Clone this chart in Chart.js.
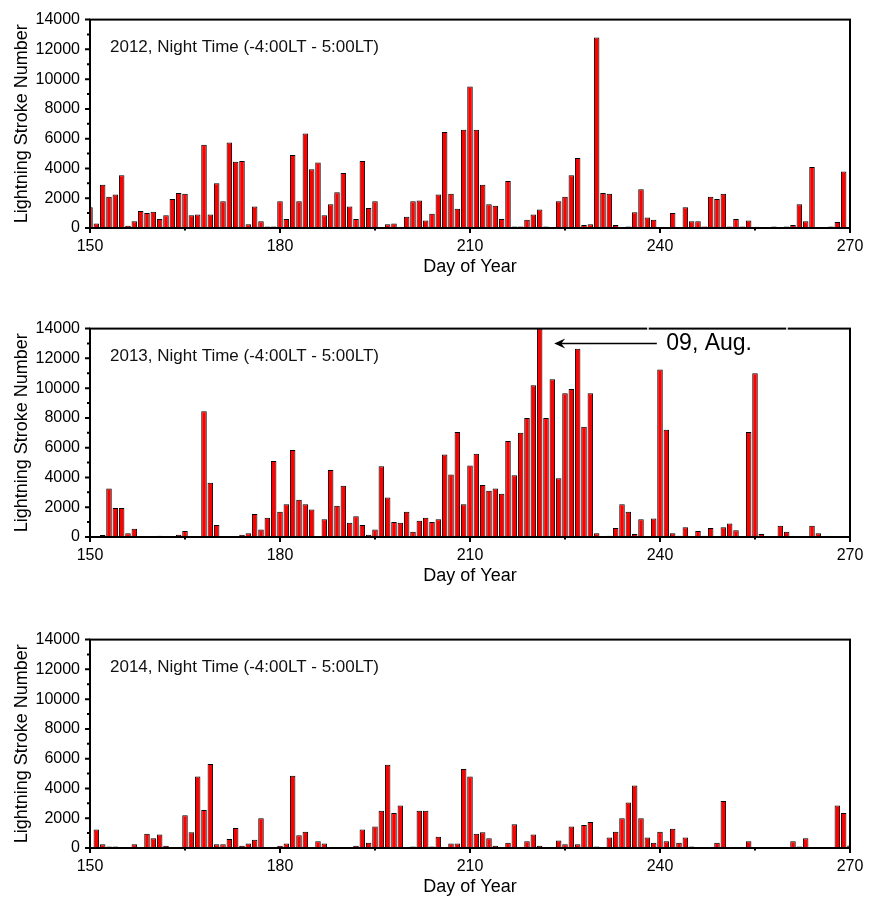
<!DOCTYPE html>
<html lang="en">
<head>
  <meta charset="UTF-8" />
  <title>Night Time Lightning Strokes 2012-2014</title>
  <style>
    html, body {
      margin: 0;
      background: #fff;
      overflow: hidden;
    }
    .panel {
      position: absolute;
      left: 0;
    }
  </style>
</head>
<body>
  <canvas id="c2012" class="panel" width="873" height="290" style="top:0px"></canvas>
  <canvas id="c2013" class="panel" width="873" height="290" style="top:309px"></canvas>
  <canvas id="c2014" class="panel" width="873" height="290" style="top:620px"></canvas>

  <script src="https://cdn.jsdelivr.net/npm/chart.js"></script>
  <script>
    // day-of-year axis
    const firstDay = 150;
    const dayTicks = [150, 180, 210, 240, 270];
    const minorDayTicks = [165, 195, 225, 255];
    const strokeTicks = [0, 2000, 4000, 6000, 8000, 10000, 12000, 14000];
    const minorStrokeTicks = [1000, 3000, 5000, 7000, 9000, 11000, 13000];

    // night-time stroke counts, one value per day starting at day 150
    const strokes2012 = [
      1400, 300, 2900, 2100, 2250, 3550, 150, 450, 1150, 1000,
      1100, 600, 850, 1950, 2350, 2300, 850, 900, 5600, 900,
      3000, 1800, 5750, 4450, 4500, 250, 1450, 450, 100, 100,
      1800, 600, 4900, 1800, 6350, 3950, 4400, 850, 1600, 2400,
      3700, 1450, 600, 4500, 1350, 1800, 0, 250, 300, 50,
      750, 1800, 1850, 500, 950, 2250, 6450, 2300, 1300, 6600,
      9500, 6600, 2900, 1600, 1500, 600, 3150, 100, 100, 550,
      900, 1250, 100, 30, 1800, 2100, 3550, 4700, 200, 250,
      12800, 2350, 2300, 200, 0, 100, 1050, 2600, 700, 550,
      0, 0, 1000, 0, 1400, 450, 450, 100, 2100, 1950,
      2300, 100, 600, 100, 500, 80, 0, 0, 100, 0,
      100, 200, 1600, 450, 4100, 0, 0, 100, 400, 3800,
      0
    ];

    const strokes2013 = [
      0, 0, 130, 3250, 1950, 1950, 250, 550, 0, 0,
      0, 80, 30, 0, 150, 400, 60, 0, 8450, 3650,
      800, 0, 0, 0, 150, 250, 1550, 500, 1300, 5100,
      1700, 2200, 5850, 2500, 2200, 1850, 0, 1200, 4500, 2100,
      3450, 950, 1400, 800, 150, 500, 4750, 2650, 1000, 950,
      1700, 350, 1100, 1300, 1000, 1200, 5550, 4200, 7050, 2200,
      4800, 5600, 3500, 3100, 3250, 2900, 6450, 4150, 7000, 8000,
      10200, 14000, 8000, 10600, 3950, 9650, 9950, 12650, 7400, 9650,
      250, 0, 80, 600, 2200, 1700, 200, 1200, 0, 1250,
      11250, 7200, 250, 80, 650, 60, 400, 80, 600, 0,
      650, 900, 450, 0, 7050, 11000, 200, 0, 30, 750,
      350, 0, 0, 0, 750, 250, 0, 0, 0, 0,
      0
    ];

    const strokes2014 = [
      0, 1250, 250, 100, 100, 0, 60, 250, 60, 950,
      650, 900, 150, 0, 0, 2200, 1050, 4800, 2550, 5650,
      250, 250, 600, 1350, 150, 300, 550, 2000, 0, 0,
      150, 300, 4850, 850, 1100, 30, 450, 300, 60, 0,
      0, 40, 150, 1250, 350, 1450, 2500, 5600, 2350, 2850,
      40, 100, 2500, 2500, 100, 750, 0, 300, 300, 5300,
      4800, 950, 1050, 650, 150, 40, 350, 1600, 0, 450,
      900, 150, 40, 0, 500, 250, 1450, 250, 1550, 1750,
      100, 0, 700, 1100, 2000, 3050, 4200, 2000, 700, 350,
      1100, 450, 1300, 350, 700, 100, 0, 0, 0, 350,
      3150, 0, 0, 40, 450, 0, 0, 0, 0, 0,
      0, 450, 100, 650, 0, 0, 0, 0, 2850, 2350,
      175
    ];

    Chart.defaults.font.family = '"Liberation Sans", Arial, Helvetica, sans-serif';
    Chart.defaults.color = '#000';

    // box, outward ticks and the in-panel notes
    const framePlugin = {
      id: 'frame',
      afterDatasetsDraw(chart, args, opts) {
        const { ctx, chartArea: a, scales: { x, y } } = chart;
        ctx.save();
        ctx.strokeStyle = '#000';
        ctx.lineWidth = 2;
        ctx.strokeRect(a.left, a.top, a.right - a.left, a.bottom - a.top);

        ctx.beginPath();
        dayTicks.forEach(d => {
          const px = x.getPixelForValue(d);
          ctx.moveTo(px, a.bottom);
          ctx.lineTo(px, a.bottom + 5);
        });
        minorDayTicks.forEach(d => {
          const px = x.getPixelForValue(d);
          ctx.moveTo(px, a.bottom);
          ctx.lineTo(px, a.bottom + 2.5);
        });
        strokeTicks.forEach(v => {
          const py = y.getPixelForValue(v);
          ctx.moveTo(a.left, py);
          ctx.lineTo(a.left - 5, py);
        });
        minorStrokeTicks.forEach(v => {
          const py = y.getPixelForValue(v);
          ctx.moveTo(a.left, py);
          ctx.lineTo(a.left - 3, py);
        });
        ctx.stroke();

        ctx.fillStyle = '#111';
        ctx.font = '17px "Liberation Sans", Arial, sans-serif';
        ctx.textBaseline = 'alphabetic';
        ctx.fillText(opts.label, a.left + 20, a.top + 32);

        if (opts.arrow) {
          const ar = opts.arrow;
          const tip = x.getPixelForValue(ar.to);
          const tail = x.getPixelForValue(ar.from);
          const ay = y.getPixelForValue(ar.at);

          // little breaks in the top border left by the text box
          ctx.strokeStyle = '#fff';
          ctx.lineWidth = 1.5;
          ar.gaps.forEach(d => {
            const px = x.getPixelForValue(d);
            ctx.beginPath();
            ctx.moveTo(px, a.top - 1.5);
            ctx.lineTo(px, a.top + 1.5);
            ctx.stroke();
          });

          ctx.strokeStyle = '#000';
          ctx.fillStyle = '#000';
          ctx.lineWidth = 1.6;
          ctx.beginPath();
          ctx.moveTo(tail, ay);
          ctx.lineTo(tip + 6, ay);
          ctx.stroke();
          ctx.beginPath();
          ctx.moveTo(tip, ay);
          ctx.lineTo(tip + 11, ay - 5);
          ctx.lineTo(tip + 7, ay);
          ctx.lineTo(tip + 11, ay + 5);
          ctx.closePath();
          ctx.fill();

          ctx.font = '23px "Liberation Sans", Arial, sans-serif';
          ctx.fillText(ar.text, x.getPixelForValue(ar.textAt), ay + 7);
        }
        ctx.restore();
      }
    };

    function makePanel(id, values, label, arrow) {
      const points = values
        .map((v, i) => ({ x: firstDay + i, y: v }))
        .filter(p => p.y > 0);

      return new Chart(document.getElementById(id), {
        type: 'bar',
        data: {
          datasets: [{
            data: points,
            backgroundColor: '#ff0000',
            borderColor: '#000',
            borderWidth: 1,
            borderSkipped: false,
            barPercentage: 0.87,
            categoryPercentage: 1,
            clip: 0
          }]
        },
        options: {
          responsive: false,
          animation: false,
          layout: { padding: { left: 0, right: 23, top: 15, bottom: 0 } },
          plugins: {
            legend: { display: false },
            tooltip: { enabled: false },
            frame: { label: label, arrow: arrow }
          },
          scales: {
            x: {
              type: 'linear',
              min: 150,
              max: 270,
              offset: false,
              afterBuildTicks: s => { s.ticks = dayTicks.map(v => ({ value: v })); },
              afterFit: s => { s.height = 62; },
              grid: { display: false, drawTicks: false, offset: false },
              border: { display: false },
              ticks: {
                padding: 9,
                font: { size: 16 },
                maxRotation: 0,
                autoSkip: false,
                callback: v => String(v)
              },
              title: {
                display: true,
                text: 'Day of Year',
                font: { size: 18 },
                padding: { top: 0, bottom: 12 }
              }
            },
            y: {
              min: 0,
              max: 14000,
              afterBuildTicks: s => { s.ticks = strokeTicks.map(v => ({ value: v })); },
              afterFit: s => { s.width = 90; },
              grid: { display: false, drawTicks: false },
              border: { display: false },
              ticks: { padding: 10, font: { size: 16 }, callback: v => String(v) },
              title: {
                display: true,
                text: 'Lightning Stroke Number',
                font: { size: 18 },
                padding: { top: 11, bottom: 0 }
              }
            }
          }
        },
        plugins: [framePlugin]
      });
    }

    makePanel('c2012', strokes2012, '2012, Night Time (-4:00LT - 5:00LT)');
    makePanel('c2013', strokes2013, '2013, Night Time (-4:00LT - 5:00LT)', {
      text: '09, Aug.', from: 239.5, to: 223.3, at: 13000, textAt: 241, gaps: [238.1, 260.05]
    });
    makePanel('c2014', strokes2014, '2014, Night Time (-4:00LT - 5:00LT)');
  </script>
</body>
</html>
